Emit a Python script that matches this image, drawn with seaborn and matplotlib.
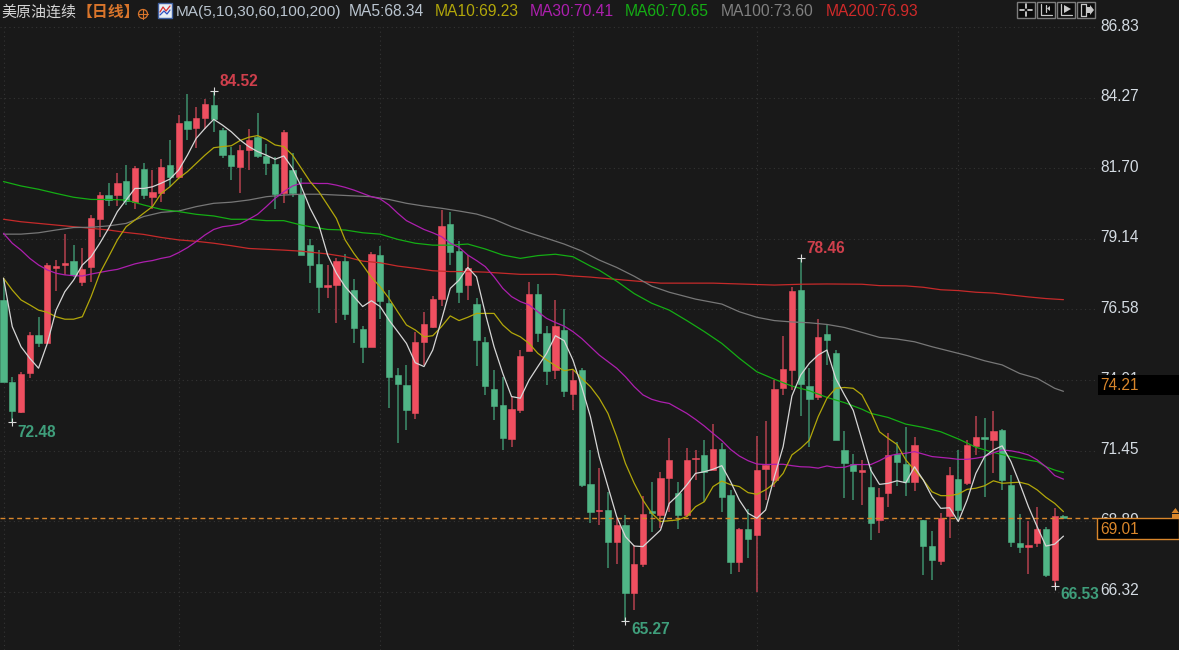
import matplotlib
matplotlib.use('Agg')
import matplotlib.pyplot as plt
from matplotlib.patches import Rectangle, Circle, Polygon
from matplotlib.transforms import blended_transform_factory
import numpy as np
import seaborn as sns

# Daily candles
opens = [76.92,73.95,72.86,74.28,75.64,75.34,78.09,78.20,78.32,77.58,78.10,79.87,80.72,80.72,81.24,80.49,81.68,80.67,80.82,81.81,
         81.40,83.41,83.18,83.54,84.00,83.08,82.18,81.76,82.37,82.83,82.15,81.86,80.79,81.64,80.77,78.91,78.23,77.40,77.46,78.33,
         77.28,75.88,75.20,78.55,76.82,74.19,73.83,72.80,75.40,75.95,76.96,79.68,78.70,77.46,76.77,75.40,73.68,73.10,71.88,72.92,
         75.05,77.14,75.73,74.37,75.83,73.50,74.37,70.23,69.24,69.29,68.11,68.74,66.26,67.33,69.26,69.11,70.46,69.92,69.11,71.14,
         71.29,70.74,71.50,69.83,67.41,68.61,68.38,70.78,70.38,73.71,74.37,77.28,73.79,73.41,75.68,75.00,71.47,70.96,70.67,70.14,
         68.93,69.92,71.32,70.96,70.30,68.93,67.98,67.44,69.07,70.43,70.26,71.63,71.95,71.83,72.20,70.21,68.10,67.93,68.10,68.61,
         66.75,69.07]
highs = [77.65,74.13,74.31,75.77,76.29,78.27,78.37,79.31,78.92,78.82,80.01,80.85,81.18,81.54,81.81,81.79,81.91,81.64,82.04,82.73,
         83.64,84.40,83.94,84.21,84.52,83.18,82.49,82.55,83.12,83.72,82.58,82.12,83.09,82.27,81.34,79.12,78.73,78.19,78.43,78.58,
         77.68,75.97,78.67,78.87,77.28,74.46,74.56,75.77,76.49,77.08,80.19,80.13,79.07,78.55,76.98,75.58,74.37,74.13,73.41,75.10,
         77.58,77.50,75.97,76.92,76.59,74.37,74.44,71.47,70.83,69.95,68.99,69.11,68.02,69.80,70.32,70.68,71.92,70.32,71.55,71.47,
         71.83,72.41,71.71,70.02,68.65,69.31,71.98,72.52,74.01,75.61,77.40,78.46,74.43,76.23,76.01,75.10,72.15,71.32,71.11,70.86,
         70.08,72.10,71.77,72.32,71.93,68.94,68.53,69.19,70.84,71.47,71.83,72.70,72.64,72.88,72.22,70.55,69.15,68.89,69.39,68.68,
         69.37,69.10]
lows = [73.95,72.48,72.83,74.07,75.22,75.34,77.25,77.83,77.77,77.43,77.58,79.19,80.33,80.33,80.37,80.23,80.60,80.21,80.49,81.01,
        81.34,82.73,82.45,83.13,83.03,82.09,81.28,80.82,81.64,82.09,81.46,80.23,80.45,80.65,78.55,77.55,76.43,77.00,76.07,76.19,
        75.37,74.62,75.20,76.23,72.98,71.71,72.20,72.61,74.56,75.89,76.70,78.19,76.82,76.92,74.52,73.46,72.56,71.47,71.59,72.83,
        75.05,75.40,73.83,74.04,73.38,72.92,70.11,68.83,68.74,67.19,67.33,65.27,65.66,67.23,68.48,68.62,69.23,68.60,69.05,70.38,
        69.59,70.74,69.23,66.96,67.05,67.56,66.32,69.65,70.14,73.47,73.65,72.70,71.57,73.29,74.56,71.83,69.74,69.65,69.47,68.20,
        68.47,69.39,70.16,69.80,69.99,66.93,66.75,67.29,68.29,68.93,70.20,71.29,69.75,70.65,70.02,67.93,67.74,66.96,67.93,66.84,
        66.53,69.00]
closes = [73.95,72.90,74.23,75.64,75.34,78.18,78.15,78.27,77.83,78.03,79.91,80.72,80.55,81.18,80.53,81.72,80.72,80.85,81.76,81.40,
          83.36,83.13,83.54,84.04,83.48,82.18,81.79,82.35,82.73,82.14,81.91,80.77,83.03,80.79,78.55,78.19,77.40,77.46,78.33,76.41,
          75.91,75.22,78.59,76.88,74.11,73.87,72.92,75.40,76.04,76.95,79.60,78.65,77.20,78.07,75.46,73.79,73.07,71.92,72.96,74.90,
          77.14,75.73,74.33,75.97,73.60,74.01,70.20,69.20,69.29,68.11,68.74,66.29,67.33,69.14,69.19,70.46,71.11,69.11,71.11,71.19,
          70.68,71.50,69.77,67.41,68.61,68.24,70.74,70.92,73.68,74.41,77.24,73.87,73.33,75.56,75.46,71.83,71.01,70.71,70.74,68.81,
          69.75,71.29,71.02,70.30,71.65,67.98,67.47,69.01,70.57,69.29,71.65,71.95,71.88,72.15,70.38,68.12,67.93,68.02,68.60,66.93,
          69.07,69.00]

# Moving averages: MA5, MA10 and MA30 per candle, the slow ones at fewer read points
ma5 = [77.71,75.95,75.22,74.80,74.44,75.34,76.55,77.22,77.64,78.19,78.49,78.98,79.52,80.13,80.55,80.97,80.97,81.03,81.16,81.31,
       81.64,82.18,82.79,83.15,83.48,83.27,83.03,82.73,82.49,82.31,82.18,82.03,82.15,81.70,81.03,80.25,79.64,78.55,77.89,77.40,
       77.04,76.68,76.89,76.68,76.19,75.77,75.34,74.64,74.50,75.10,76.19,77.34,77.64,78.10,77.76,76.43,75.22,74.25,73.41,73.35,
       74.01,74.50,74.98,75.62,75.44,74.74,73.77,72.68,71.23,70.14,69.05,68.32,67.98,67.96,68.26,68.56,69.53,69.83,70.20,70.62,
       70.68,70.77,70.90,70.32,69.65,69.17,68.99,69.29,70.50,71.59,73.43,74.19,74.62,74.92,75.10,74.07,73.47,72.91,71.83,70.74,
       70.22,70.26,70.35,70.28,70.86,70.38,69.77,69.35,69.37,68.87,69.65,70.62,71.23,71.47,71.62,71.05,70.26,69.41,68.68,67.98,
       68.05,68.34]
ma10 = [77.71,77.28,76.92,76.74,76.55,76.47,76.31,76.22,76.22,76.31,77.04,77.89,78.49,79.10,79.58,79.82,80.07,80.31,80.79,81.03,
        81.34,81.58,81.88,82.18,82.45,82.49,82.52,82.71,82.83,82.89,82.75,82.55,82.49,82.18,81.70,81.22,80.85,80.37,79.88,79.10,
        78.61,78.19,77.74,77.40,76.98,76.49,76.01,75.83,75.58,75.62,75.95,76.34,76.17,76.29,76.43,76.43,76.43,76.01,75.73,75.58,
        75.34,74.98,74.74,74.53,74.35,74.40,74.07,73.77,73.35,72.80,71.95,70.98,70.26,69.65,69.17,68.87,68.90,68.93,69.05,69.41,
        69.59,70.14,70.34,70.21,70.14,69.92,69.86,70.02,70.26,70.62,71.29,71.53,71.83,72.68,73.35,73.71,73.74,73.71,73.47,72.86,
        72.13,71.89,71.67,71.11,70.74,70.38,69.95,69.81,69.81,69.87,70.04,70.08,70.17,70.35,70.26,70.28,70.30,70.22,70.02,69.75,
        69.53,69.23]
ma30 = [79.34,78.98,78.73,78.43,78.19,78.01,77.89,77.83,77.80,77.79,77.86,77.92,77.98,78.03,78.13,78.23,78.30,78.35,78.43,78.49,
        78.64,78.82,79.04,79.28,79.48,79.58,79.62,79.68,79.85,80.03,80.31,80.61,80.85,81.06,81.16,81.16,81.15,81.15,81.09,81.01,
        80.91,80.79,80.67,80.59,80.37,80.07,79.80,79.64,79.48,79.36,79.22,78.98,78.83,78.55,78.35,78.13,77.76,77.34,77.04,76.86,
        76.74,76.49,76.25,76.10,75.97,75.77,75.52,75.22,74.92,74.68,74.44,74.13,73.77,73.47,73.31,73.22,73.16,72.98,72.80,72.58,
        72.34,72.07,71.81,71.49,71.25,71.08,70.96,70.94,70.95,70.95,70.90,70.86,70.85,70.81,70.89,70.83,70.84,70.94,70.94,70.94,
        71.08,71.25,71.32,71.35,71.41,71.32,71.23,71.20,71.17,71.13,71.13,71.17,71.23,71.37,71.47,71.44,71.38,71.29,71.11,70.86,
        70.54,70.41]
ma60_idx = [0,2,4,6,8,10,12,14,16,18,20,22,24,26,28,30,32,34,35,37,39,41,43,45,47,49,51,53,55,57,59,61,63,65,67,68,70,72,74,76,78,80,82,84,
            86,88,90,92,94,96,98,99,101,103,105,107,109,111,113,115,117,118,119,120,121]
ma60 = [81.22,81.06,80.94,80.79,80.65,80.57,80.57,80.55,80.37,80.21,80.13,80.03,79.97,79.85,79.85,79.80,79.80,79.64,79.58,79.48,
        79.46,79.36,79.31,79.12,78.98,78.91,78.91,78.95,78.77,78.55,78.43,78.53,78.58,78.49,78.15,78.00,77.60,77.15,76.80,76.55,
        76.17,75.77,75.34,74.80,74.31,74.04,73.79,73.62,73.38,73.19,72.95,72.80,72.65,72.41,72.29,72.13,71.87,71.57,71.38,71.23,
        71.10,71.05,70.86,70.74,70.65]
ma100_idx = [0,2,4,6,8,10,12,14,16,18,20,22,24,26,28,30,32,34,36,38,40,42,44,46,48,50,52,54,56,58,60,62,64,66,68,70,72,74,76,79,82,84,86,88,
             90,92,94,96,98,99,100,102,104,106,108,110,112,114,116,118,120,121]
ma100 = [79.31,79.31,79.36,79.46,79.55,79.56,79.61,79.70,79.95,80.10,80.15,80.31,80.43,80.47,80.55,80.67,80.73,80.76,80.76,80.73,
         80.70,80.67,80.57,80.43,80.33,80.25,80.15,80.04,79.85,79.58,79.36,79.16,78.95,78.70,78.37,78.10,77.78,77.42,77.20,76.95,
         76.77,76.49,76.29,76.17,76.12,76.09,76.03,75.92,75.74,75.65,75.56,75.50,75.40,75.22,75.06,74.90,74.71,74.56,74.25,74.07,
         73.71,73.60]
ma200_idx = [0,2,4,6,8,10,12,14,16,18,20,22,24,26,28,30,32,34,37,39,41,43,45,47,49,51,53,55,57,59,61,63,65,67,68,75,81,88,91,94,98,100,103,105,
             107,109,111,113,115,117,119,121]
ma200 = [79.85,79.76,79.70,79.64,79.58,79.52,79.46,79.37,79.30,79.19,79.10,79.05,78.98,78.89,78.79,78.76,78.73,78.69,78.59,78.49,
         78.33,78.27,78.15,78.07,77.98,77.95,77.95,77.93,77.89,77.85,77.85,77.85,77.79,77.75,77.72,77.53,77.53,77.46,77.49,77.50,
         77.49,77.44,77.43,77.38,77.29,77.26,77.20,77.17,77.10,77.03,76.97,76.93]

price_ticks = [86.83, 84.27, 81.70, 79.14, 76.58, 74.01, 71.45, 68.89, 66.32]
month_starts = [0, 20, 43, 65, 86, 109]
peak_marks = [(24, 84.52), (1, 72.48), (91, 78.46), (71, 65.27), (120, 66.53)]
last_price = 69.01
ma100_last_price = 74.21

BG = '#191919'
UP = '#ef4f60'
DOWN = '#50b586'
UP_WICK = '#b5414e'
DOWN_WICK = '#3d8f6c'
ORANGE = '#d9862b'
C_MA5, C_MA10, C_MA30, C_MA60, C_MA100, C_MA200 = '#d6d6d6', '#b2a70a', '#ad1fae', '#14ad14', '#777777', '#c62a2a'
LINE_W = 0.9

sns.set_theme(style='dark', rc={'axes.facecolor': BG, 'figure.facecolor': BG})
plt.rcParams['font.family'] = ['Liberation Sans', 'Noto Sans CJK SC', 'DejaVu Sans']

fig = plt.figure(figsize=(11.79, 6.5), dpi=100)
ax = fig.add_axes([0, 0, 1, 1])
ax.set_xlim(-0.4, 134.19)
ax.set_ylim(64.204, 87.815)
ax.axis('off')
grid_end = 124.8

# Grid
ax.hlines(price_ticks, -0.4, grid_end, color='#343434', lw=0.8, linestyles=(0, (1, 3)), zorder=1)
ax.vlines(month_starts, 64.204, 86.83, color='#343434', lw=0.8, linestyles=(0, (1, 3)), zorder=1)

# Candles
o = np.array(opens)
c = np.array(closes)
h = np.array(highs)
l = np.array(lows)
x = np.arange(len(o))
up = c >= o
ax.vlines(x[up], l[up], h[up], color=UP_WICK, lw=1.1, zorder=2)
ax.vlines(x[~up], l[~up], h[~up], color=DOWN_WICK, lw=1.1, zorder=2)
ax.bar(x[up], (c - o)[up], bottom=o[up], width=0.72, color=UP, edgecolor=UP, lw=0.4, zorder=3)
ax.bar(x[~up], (o - c)[~up], bottom=c[~up], width=0.72, color=DOWN, edgecolor=DOWN, lw=0.4, zorder=3)

# Current price
ax.hlines(last_price, -0.4, grid_end, color=ORANGE, lw=1.0, linestyles=(0, (3.5, 2.5)), zorder=3.5)

# Moving averages
sns.lineplot(x=ma200_idx, y=ma200, color=C_MA200, lw=LINE_W, ax=ax, zorder=4)
sns.lineplot(x=ma100_idx, y=ma100, color=C_MA100, lw=LINE_W, ax=ax, zorder=4)
sns.lineplot(x=ma60_idx, y=ma60, color=C_MA60, lw=LINE_W, ax=ax, zorder=4)
sns.lineplot(x=x, y=ma30, color=C_MA30, lw=LINE_W, ax=ax, zorder=4)
sns.lineplot(x=x, y=ma10, color=C_MA10, lw=LINE_W, ax=ax, zorder=4)
sns.lineplot(x=x, y=ma5, color=C_MA5, lw=LINE_W, ax=ax, zorder=4)

# High and low markers
for i, p in peak_marks:
    ax.plot(i, p, marker='+', ms=5.5, mew=0.8, color='#dcdcdc', zorder=5)
for (i, p), dx, dy, col in zip(peak_marks, [6, 5, 6, 6, 6], [-9, 10, -9, 9, 9],
                               ['#cf3f4c', '#3f9e7b', '#cf3f4c', '#3f9e7b', '#3f9e7b']):
    ax.annotate(f'{p:.2f}', (i, p), xytext=(dx * 0.72, -dy * 0.72), textcoords='offset points',
                fontsize=11.2, fontweight='bold', color=col, va='center', ha='left', zorder=6)

# Overlay in pixels for the price scale, header and toolbar
ov = fig.add_axes([0, 0, 1, 1], facecolor='none')
ov.set_xlim(0, 1179)
ov.set_ylim(650, 0)
ov.axis('off')

tick_tf = blended_transform_factory(ov.transData, ax.transData)
for t in price_ticks:
    ov.text(1100, t + 0.03, f'{t:.2f}', transform=tick_tf, color='#d4dbe2', fontsize=11.2, va='center')

ov.add_patch(Rectangle((1098, 375), 81, 20, fc='black', ec='none', zorder=5))
ov.text(1100, 385, f'{ma100_last_price:.2f}', color=ORANGE, fontsize=11.2, va='center', zorder=6)
ov.add_patch(Rectangle((1097, 518), 82, 21, fc='black', ec=ORANGE, lw=1, zorder=5))
ov.text(1100, 529, f'{last_price:.2f}', color=ORANGE, fontsize=11.2, va='center', zorder=6)
ov.add_patch(Polygon([[1175.5, 508], [1171.5, 513], [1179, 513]], fc=ORANGE, ec='none', zorder=6))
ov.add_patch(Rectangle((1172, 514), 7, 3.5, fc=ORANGE, ec='none', zorder=6))

# Header
header = [(1, '美原油连续', '#d4d4d4', 10.8, 'normal'), (77, '【日线】', '#d9752b', 11.4, 'bold'),
          (176, 'MA(5,10,30,60,100,200)', '#b9c4cf', 11.07, 'normal'),
          (349, 'MA5:68.34', '#b9c4cf', 11.25, 'normal'), (435, 'MA10:69.23', C_MA10, 11.25, 'normal'),
          (530, 'MA30:70.41', C_MA30, 11.25, 'normal'), (625, 'MA60:70.65', C_MA60, 11.25, 'normal'),
          (721, 'MA100:73.60', '#808080', 11.25, 'normal'), (826, 'MA200:76.93', '#d02a2a', 11.25, 'normal')]
for px, label, col, size, weight in header:
    ov.text(px, 12, label, color=col, fontsize=size, va='center', ha='left', fontweight=weight)

ov.add_patch(Circle((143, 14), 4.5, fc='none', ec='#d9752b', lw=0.9))
ov.plot([138, 148], [14, 14], color='#d9752b', lw=0.8)
ov.plot([143, 143], [9, 19], color='#d9752b', lw=0.8)
ov.add_patch(Rectangle((158, 3), 14, 15, fc='#e8eef5', ec='#4060a0', lw=1))
ov.plot([160, 163, 166, 170], [12, 7, 11, 6], color='#d83030', lw=0.9)
ov.plot([160, 164, 167, 170], [15, 11, 14, 10], color='#3050c0', lw=0.9)

# Toolbar
for bx in [1017, 1037, 1057, 1077]:
    ov.add_patch(Rectangle((bx, 2), 18, 16, fc='#0c0c0c', ec='#7d7d7d', lw=1))
ov.plot([1020, 1024], [10, 10], color='#e0e0e0', lw=1.2)
ov.plot([1028, 1032], [10, 10], color='#e0e0e0', lw=1.2)
ov.plot([1026, 1026], [4, 8], color='#e0e0e0', lw=1.2)
ov.plot([1026, 1026], [12, 16], color='#e0e0e0', lw=1.2)
ov.plot([1041, 1041, 1052], [4, 15, 15], color='#c8c8c8', lw=0.9)
ov.plot([1046, 1046], [5, 12], color='#c8c8c8', lw=0.9)
ov.add_patch(Polygon([[1047, 8.5], [1050, 6], [1050, 11]], fc='#c8c8c8', ec='none'))
ov.plot([1061, 1061, 1072], [4, 15, 15], color='#c8c8c8', lw=0.9)
ov.add_patch(Polygon([[1064, 5], [1071, 9], [1064, 13]], fc='#c8c8c8', ec='none'))
ov.plot([1081, 1081], [4, 16], color='#c8c8c8', lw=0.9)
ov.plot([1086, 1086], [4, 16], color='#c8c8c8', lw=0.9)
ov.plot([1081, 1086], [4, 4], color='#c8c8c8', lw=0.9)
ov.plot([1081, 1086], [16, 16], color='#c8c8c8', lw=0.9)
ov.add_patch(Polygon([[1086, 7], [1090, 7], [1090, 5], [1094, 10], [1090, 15], [1090, 13], [1086, 13]], fc='#c8c8c8', ec='none'))

fig.savefig('out.png', dpi=100, facecolor=BG)
